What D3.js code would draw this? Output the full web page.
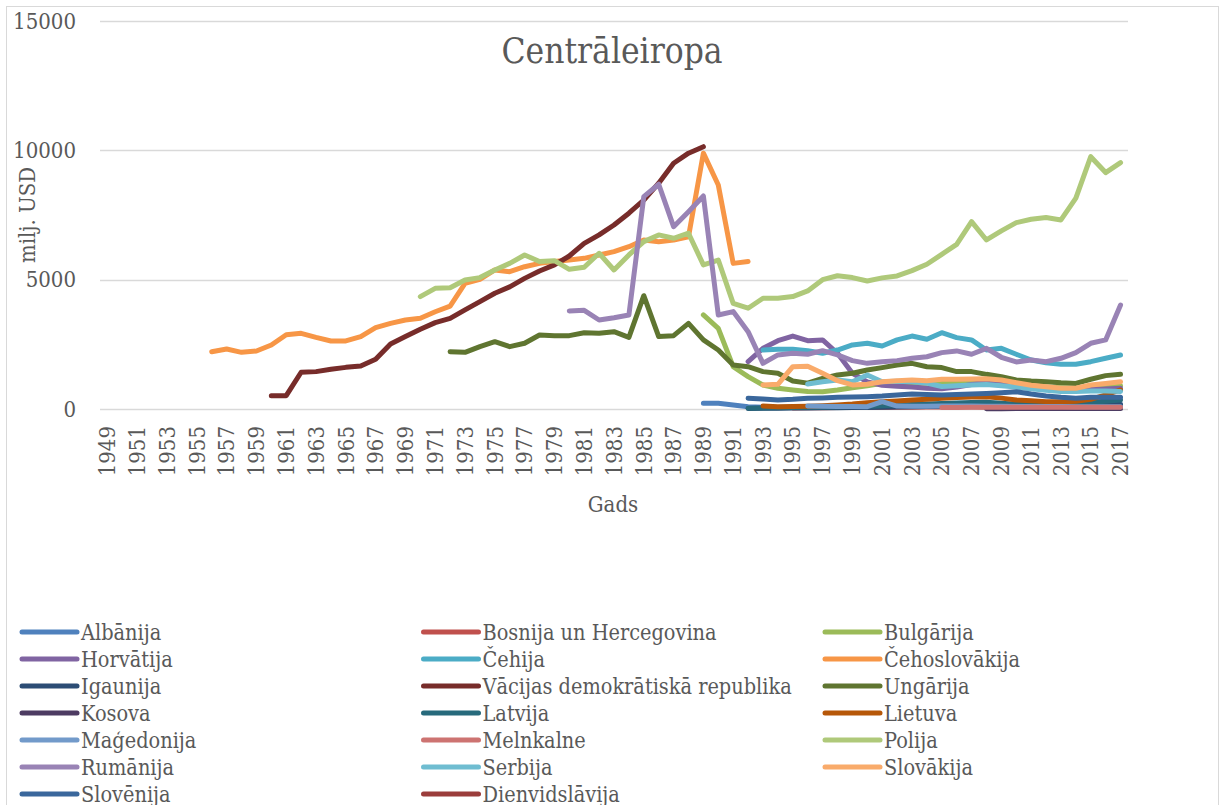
<!DOCTYPE html>
<html>
<head>
<meta charset="utf-8">
<script src="https://cdn.jsdelivr.net/npm/d3@7"></script>
<style>
  body { margin: 0; background: #fff; }
  svg text { font-family: "DejaVu Serif Condensed", "DejaVu Serif", "Liberation Serif", serif; fill: #595959; }
</style>
</head>
<body>
<svg id="chart" width="1222" height="805"></svg>
<script>
// years on the category axis
var years = d3.range(1949, 2018);
var yTicks = [0, 5000, 10000, 15000];

// series values (milj. USD), each starting at its first year
var albanija = [220, 220, 155, 90, 70, 60, 70, 80, 60, 60, 70, 80, 90, 100, 110, 120, 130, 140, 150, 170, 180, 180, 170, 160, 150, 140, 150, 160, 170];
var bosnija = [40, 45, 50, 55, 60, 60, 60, 65, 70, 75, 80, 85, 85, 80, 80, 75, 75, 70, 70, 72, 75, 78, 80];
var bulgarija = [3635, 3120, 1635, 1250, 930, 800, 735, 680, 670, 735, 825, 900, 990, 1030, 1000, 1000, 1020, 1050, 1080, 1060, 950, 900, 870, 850, 820, 800, 830, 850, 900];
var horvatija = [1830, 2345, 2640, 2820, 2640, 2670, 2155, 1380, 1050, 920, 880, 850, 800, 780, 850, 950, 1050, 950, 860, 800, 780, 760, 740, 750, 770, 800];
var cehija = [2280, 2310, 2310, 2255, 2155, 2280, 2475, 2540, 2435, 2670, 2820, 2695, 2950, 2760, 2670, 2280, 2345, 2115, 1895, 1790, 1730, 1730, 1830, 1960, 2090];
var cehoslovakija = [2215, 2320, 2190, 2240, 2475, 2870, 2925, 2770, 2630, 2630, 2800, 3145, 3310, 3440, 3505, 3760, 3980, 4860, 5015, 5375, 5310, 5500, 5630, 5700, 5760, 5825, 5955, 6085, 6275, 6535, 6470, 6535, 6660, 9890, 8660, 5630, 5700];
var igaunija = [20, 25, 30, 35, 40, 45, 50, 55, 60, 70, 80, 90, 100, 110, 120, 130, 130, 110, 100, 110, 120, 130, 140, 150, 160, 170];
var vdr = [515, 515, 1420, 1445, 1535, 1610, 1660, 1920, 2515, 2800, 3080, 3340, 3505, 3830, 4150, 4475, 4720, 5050, 5335, 5570, 5915, 6405, 6730, 7115, 7570, 8080, 8730, 9500, 9890, 10140];
var ungarija = [2215, 2190, 2410, 2600, 2410, 2540, 2860, 2835, 2835, 2950, 2925, 2990, 2770, 4380, 2800, 2835, 3310, 2670, 2280, 1700, 1635, 1445, 1380, 1080, 1000, 1185, 1315, 1380, 1510, 1600, 1700, 1765, 1635, 1600, 1445, 1445, 1340, 1250, 1120, 1080, 1055, 1015, 990, 1150, 1290, 1340];
var kosova = [10, 12, 15, 15, 18, 18, 20, 20, 22, 22];
var latvija = [30, 40, 50, 60, 70, 80, 90, 100, 110, 130, 150, 170, 190, 210, 230, 250, 260, 220, 180, 170, 180, 200, 230, 260, 300, 350];
var lietuva = [115, 90, 100, 110, 130, 155, 190, 245, 280, 310, 350, 380, 415, 440, 460, 475, 420, 350, 320, 285, 285, 300, 375, 550, 735];
var makedonija = [115, 110, 100, 95, 90, 285, 115, 110, 110, 115, 115, 115, 110, 105, 100, 100, 95, 95, 90, 90, 90, 90];
var melnkalne = [60, 62, 65, 68, 70, 68, 66, 65, 64, 65, 66, 68, 70];
var polija = [4345, 4665, 4690, 4990, 5080, 5375, 5630, 5955, 5700, 5735, 5400, 5480, 6020, 5375, 5955, 6470, 6730, 6600, 6795, 5570, 5760, 4085, 3895, 4280, 4280, 4345, 4565, 5000, 5150, 5080, 4950, 5070, 5145, 5350, 5595, 5980, 6365, 7245, 6535, 6885, 7205, 7335, 7400, 7310, 8150, 9755, 9140, 9525];
var rumanija = [3790, 3815, 3440, 3530, 3635, 8210, 8690, 7050, 7630, 8235, 3635, 3765, 2990, 1765, 2090, 2155, 2115, 2255, 2090, 1870, 1765, 1830, 1870, 1960, 2020, 2180, 2245, 2115, 2345, 2000, 1820, 1895, 1830, 1960, 2180, 2540, 2670, 4020];
var serbija = [965, 1055, 1120, 1055, 1315, 1055, 1070, 1050, 1000, 870, 900, 930, 950, 900, 850, 780, 720, 680, 680, 700, 700, 680];
var slovakija = [930, 955, 1635, 1650, 1380, 1095, 930, 955, 1055, 1095, 1120, 1095, 1150, 1150, 1160, 1170, 1120, 1015, 915, 860, 800, 800, 930, 990, 1055];
var slovenija = [415, 390, 350, 375, 415, 430, 450, 460, 475, 500, 540, 580, 560, 540, 560, 580, 600, 630, 670, 580, 505, 450, 415, 450, 450, 450];
var dienvidslavija = [];

var series = [
  { name: 'Albānija', start: 1989, values: albanija, color: '#4F81BD' },
  { name: 'Bosnija un Hercegovina', start: 1995, values: bosnija, color: '#C0504D' },
  { name: 'Bulgārija', start: 1989, values: bulgarija, color: '#9BBB59' },
  { name: 'Horvātija', start: 1992, values: horvatija, color: '#8064A2' },
  { name: 'Čehija', start: 1993, values: cehija, color: '#4BACC6' },
  { name: 'Čehoslovākija', start: 1956, values: cehoslovakija, color: '#F79646' },
  { name: 'Igaunija', start: 1992, values: igaunija, color: '#2C4D75' },
  { name: 'Vācijas demokrātiskā republika', start: 1960, values: vdr, color: '#772C2A' },
  { name: 'Ungārija', start: 1972, values: ungarija, color: '#5F7530' },
  { name: 'Kosova', start: 2008, values: kosova, color: '#4D3B62' },
  { name: 'Latvija', start: 1992, values: latvija, color: '#276A7C' },
  { name: 'Lietuva', start: 1993, values: lietuva, color: '#B65708' },
  { name: 'Maģedonija', start: 1996, values: makedonija, color: '#729ACA' },
  { name: 'Melnkalne', start: 2005, values: melnkalne, color: '#CD7371' },
  { name: 'Polija', start: 1970, values: polija, color: '#AFC97A' },
  { name: 'Rumānija', start: 1980, values: rumanija, color: '#9983B5' },
  { name: 'Serbija', start: 1996, values: serbija, color: '#6FBDD1' },
  { name: 'Slovākija', start: 1993, values: slovakija, color: '#F9AB6B' },
  { name: 'Slovēnija', start: 1992, values: slovenija, color: '#3A679C' },
  { name: 'Dienvidslāvija', start: 1949, values: dienvidslavija, color: '#9B3D3B' }
];

var svg = d3.select('#chart');

// outer frame
svg.append('rect')
    .attr('x', 6.5).attr('y', 6.5)
    .attr('width', 1212).attr('height', 810)
    .attr('fill', 'none')
    .attr('stroke', '#D9D9D9')
    .attr('stroke-width', 1);

var x = d3.scaleBand().domain(years).range([100, 1128]);
var y = d3.scaleLinear().domain([0, 15000]).range([409, 21]);
var cx = function(yr) { return x(yr) + x.bandwidth() / 2; };

// gridlines
svg.append('g').selectAll('line')
    .data(yTicks)
    .enter().append('line')
    .attr('x1', 100).attr('x2', 1128)
    .attr('y1', function(d) { return Math.round(y(d)) + 0.5; })
    .attr('y2', function(d) { return Math.round(y(d)) + 0.5; })
    .attr('stroke', '#D9D9D9')
    .attr('stroke-width', 1.5);

// y tick labels
svg.append('g').selectAll('text')
    .data(yTicks)
    .enter().append('text')
    .attr('x', 76)
    .attr('y', function(d) { return y(d); })
    .attr('dy', '0.35em')
    .attr('text-anchor', 'end')
    .style('font-size', '22px')
    .text(function(d) { return d; });

// x tick labels, every other year
svg.append('g').selectAll('text')
    .data(years.filter(function(d) { return (d - 1949) % 2 === 0; }))
    .enter().append('text')
    .attr('transform', function(d) { return 'translate(' + cx(d) + ',426) rotate(-90)'; })
    .attr('dy', '0.35em')
    .attr('text-anchor', 'end')
    .style('font-size', '22px')
    .text(function(d) { return d; });

// lines
var line = d3.line()
    .x(function(d) { return cx(d.year); })
    .y(function(d) { return y(d.value); });

series.forEach(function(s) {
  if (!s.values.length) return;
  var pts = s.values.map(function(v, i) { return { year: s.start + i, value: v }; });
  svg.append('path')
      .datum(pts)
      .attr('d', line)
      .attr('fill', 'none')
      .attr('stroke', s.color)
      .attr('stroke-width', 5)
      .attr('stroke-linejoin', 'round')
      .attr('stroke-linecap', 'round');
});

// titles
svg.append('text')
    .attr('x', 612).attr('y', 63)
    .attr('text-anchor', 'middle')
    .style('font-size', '35px')
    .text('Centrāleiropa');

svg.append('text')
    .attr('x', 613).attr('y', 512)
    .attr('text-anchor', 'middle')
    .style('font-size', '22px')
    .text('Gads');

svg.append('text')
    .attr('transform', 'translate(27,215) rotate(-90)')
    .attr('dy', '0.35em')
    .attr('text-anchor', 'middle')
    .style('font-size', '22px')
    .text('milj. USD');

// legend, 3 columns
var legend = svg.append('g').selectAll('g')
    .data(series)
    .enter().append('g')
    .attr('transform', function(d, i) {
      return 'translate(' + (22 + (i % 3) * 401.5) + ',' + (632 + Math.floor(i / 3) * 27) + ')';
    });

legend.append('line')
    .attr('x1', 0).attr('x2', 55)
    .attr('y1', 0).attr('y2', 0)
    .attr('stroke', function(d) { return d.color; })
    .attr('stroke-width', 5)
    .attr('stroke-linecap', 'round');

legend.append('text')
    .attr('x', 59)
    .attr('dy', '0.35em')
    .style('font-size', '21.5px')
    .text(function(d) { return d.name; });
</script>
</body>
</html>
